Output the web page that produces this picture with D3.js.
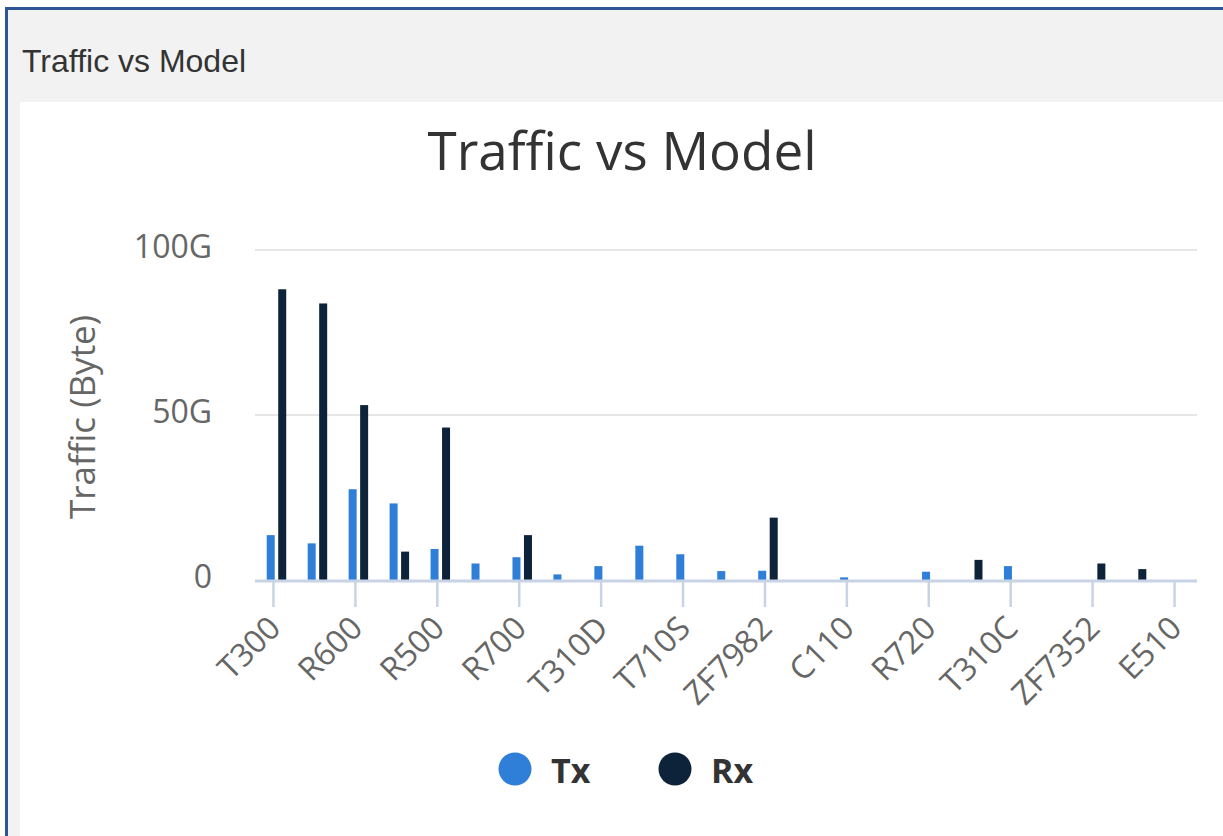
<!DOCTYPE html>
<html>
<head>
<meta charset="utf-8">
<script src="https://cdn.jsdelivr.net/npm/d3@7"></script>
<style>
  body { margin: 0; background: #fff; }
  svg { display: block; }
</style>
</head>
<body>
<script>
// data (traffic in G)
var categories = ["T300", "R710", "R600", "R610", "R500", "R510", "R700", "T610", "T310D", "H510", "T710S", "R310",
    "ZF7982", "R320", "C110", "T710", "R720", "R750", "T310C", "H320", "ZF7352", "R650", "E510"];
var txValues = [13.6, 11.1, 27.5, 23.2, 9.4, 5.0, 6.9, 1.7, 4.2, 10.4, 7.8, 2.7, 2.8, 0, 0.8, 0, 2.5, 0, 4.2, 0, 0, 0, 0];
var rxValues = [88.1, 83.8, 53.0, 8.6, 46.2, 0, 13.6, 0, 0, 0, 0, 0, 18.9, 0, 0, 0, 0, 6.1, 0, 0, 5.0, 3.3, 0];
var seriesNames = ["Tx", "Rx"];
var seriesColors = ["#2f7ed8", "#0d233a"];
var yTicks = [0, 50, 100];

var W = 1223, H = 836;
var svg = d3.select("body").append("svg")
    .attr("width", W)
    .attr("height", H);

// panel frame
svg.append("rect").attr("x", 5).attr("y", 7).attr("width", W - 5).attr("height", H - 7).attr("fill", "#f2f2f2");
svg.append("rect").attr("x", 20).attr("y", 102).attr("width", W - 20).attr("height", H - 102).attr("fill", "#fff");
svg.append("rect").attr("x", 5).attr("y", 7).attr("width", W - 5).attr("height", 3).attr("fill", "#2d5596");
svg.append("rect").attr("x", 5).attr("y", 7).attr("width", 3).attr("height", H - 7).attr("fill", "#2d5596");
svg.append("text")
    .attr("x", 22).attr("y", 72)
    .style("font-family", "'Liberation Sans', Arial, sans-serif")
    .style("font-size", "32px")
    .style("fill", "#333")
    .text("Traffic vs Model");

// chart title
svg.append("text")
    .attr("x", 622).attr("y", 170)
    .attr("text-anchor", "middle")
    .style("font-family", "'Open Sans', sans-serif")
    .style("font-size", "53px")
    .style("fill", "#333")
    .text("Traffic vs Model");

// scales
var plotLeft = 256, plotRight = 1198, plotBottom = 580, plotTop = 250;
var xScale = d3.scaleBand()
    .domain(categories)
    .range([plotLeft, plotRight])
    .padding(0);
var xSub = d3.scaleBand()
    .domain(seriesNames)
    .range([-9.75, 9.75])
    .paddingInner(0.304);
var yScale = d3.scaleLinear()
    .domain([0, 100])
    .range([plotBottom, plotTop]);

// gridlines
svg.append("g").selectAll("line")
    .data(yTicks.filter(function (d) { return d > 0; }))
    .enter().append("line")
    .attr("x1", plotLeft - 1).attr("x2", plotRight - 1)
    .attr("y1", function (d) { return yScale(d); })
    .attr("y2", function (d) { return yScale(d); })
    .attr("stroke", "#e6e6e6")
    .attr("stroke-width", 2);

// y axis labels
var yAxis = svg.append("g")
    .attr("transform", "translate(" + plotLeft + ",-3)")
    .call(d3.axisLeft(yScale).tickValues(yTicks).tickSize(0).tickPadding(44)
        .tickFormat(function (d) { return d === 0 ? "0" : d + "G"; }));
yAxis.select(".domain").remove();
yAxis.selectAll("text")
    .style("font-family", "'Open Sans', sans-serif")
    .style("font-size", "32px")
    .style("fill", "#666");

svg.append("text")
    .attr("transform", "translate(95,417) rotate(-90)")
    .attr("text-anchor", "middle")
    .style("font-family", "'Open Sans', sans-serif")
    .style("font-size", "35px")
    .style("fill", "#666")
    .text("Traffic (Byte)");

// bars
var rows = categories.map(function (c, i) {
    return { cat: c, values: [txValues[i], rxValues[i]] };
});
var groups = svg.append("g").selectAll("g")
    .data(rows)
    .enter().append("g")
    .attr("transform", function (d) { return "translate(" + (xScale(d.cat) + xScale.bandwidth() / 2) + ",0)"; });
groups.selectAll("rect")
    .data(function (d) { return d.values.map(function (v, k) { return { name: seriesNames[k], value: v, k: k }; }); })
    .enter().append("rect")
    .filter(function (d) { return d.value > 0; })
    .attr("x", function (d) { return xSub(d.name); })
    .attr("y", function (d) { return yScale(d.value); })
    .attr("width", xSub.bandwidth())
    .attr("height", function (d) { return plotBottom - yScale(d.value); })
    .attr("fill", function (d) { return seriesColors[d.k]; });

// x axis
svg.append("line")
    .attr("x1", plotLeft - 1).attr("x2", plotRight - 1)
    .attr("y1", plotBottom + 1).attr("y2", plotBottom + 1)
    .attr("stroke", "#c8d4e6")
    .attr("stroke-width", 3);
var xAxis = svg.append("g")
    .attr("transform", "translate(-3," + (plotBottom + 2) + ")")
    .call(d3.axisBottom(xScale)
        .tickValues(categories.filter(function (d, i) { return i % 2 === 0; }))
        .tickSize(25).tickSizeOuter(0));
xAxis.select(".domain").remove();
xAxis.selectAll(".tick line").attr("stroke", "#c8d4e6").attr("stroke-width", 2.5);
xAxis.selectAll("text")
    .attr("text-anchor", "end")
    .attr("transform", "translate(9,48) rotate(-45)")
    .attr("y", 0).attr("dy", 0)
    .style("font-family", "'Open Sans', sans-serif")
    .style("font-size", "32px")
    .style("fill", "#666");

// legend
var legend = svg.append("g").selectAll("g")
    .data(seriesNames)
    .enter().append("g")
    .attr("transform", function (d, i) { return "translate(" + (515 + i * 160) + ",769)"; });
legend.append("circle")
    .attr("r", 16.5)
    .attr("fill", function (d, i) { return seriesColors[i]; });
legend.append("text")
    .attr("x", 36).attr("y", 14)
    .style("font-family", "'Open Sans', sans-serif")
    .style("font-weight", "bold")
    .style("font-size", "34px")
    .style("fill", "#333")
    .text(function (d) { return d; });
</script>
</body>
</html>
